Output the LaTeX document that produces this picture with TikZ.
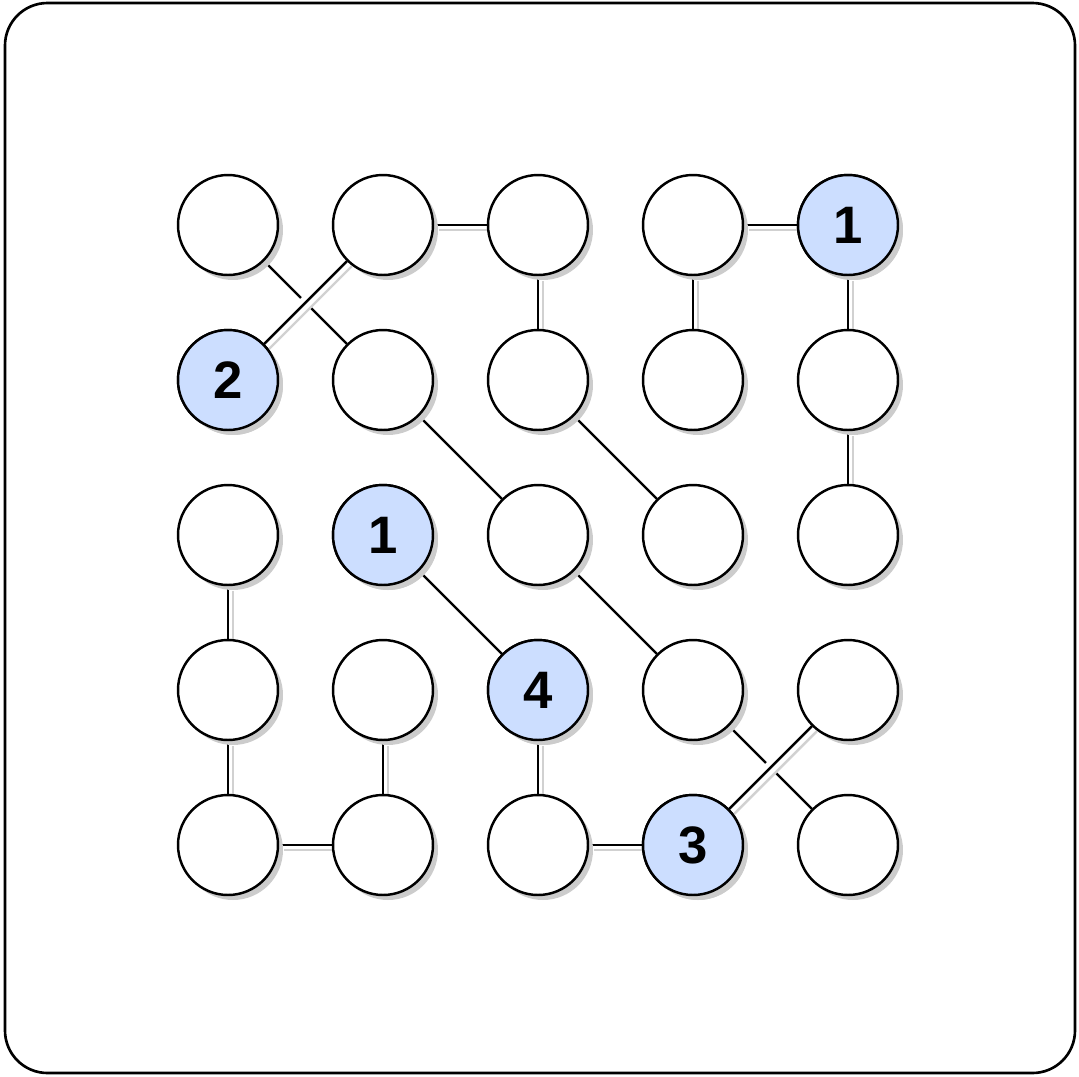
\documentclass[tikz,border=0pt]{standalone}
\usepackage{fontspec}
\setmainfont{Liberation Sans}
\usetikzlibrary{shadows,backgrounds}
\definecolor{cluefill}{HTML}{CCDEFF}

\begin{document}
\begin{tikzpicture}[x=0.02cm,y=-0.02cm,
  dot/.style={circle,draw,line width=1.4pt,fill=white,minimum size=2cm,inner sep=0pt,
    drop shadow={shadow xshift=0.1cm,shadow yshift=-0.1cm,fill=black!20,opacity=1},
    font=\fontsize{30}{30}\selectfont\bfseries},
  clue/.style={dot,fill=cluefill},
  link/.style={line width=1.4pt},
  linkshade/.style={line width=1.4pt,black!18,transform canvas={shift={(0.1cm,-0.1cm)}}},
  gap/.style={line width=0.25cm,white}]
\useasboundingbox (0,0) rectangle (1079,1076);
\draw[line width=1.5pt,rounded corners=0.85cm] (5,3) rectangle (1075,1073);
% grid of dots
\foreach \r in {0,...,4}
  \foreach \c in {0,...,4}
    \node[dot] (n-\r-\c) at (228+155*\c,225+155*\r) {};
% numbered dots
\foreach \r/\c/\t in {0/4/1, 1/0/2, 2/1/1, 3/2/4, 4/3/3}
  \node[clue] (c-\r-\c) at (n-\r-\c) {\t};
\begin{scope}[on background layer]
% plain links
\foreach \a/\b in {n-0-1/n-0-2, n-0-3/n-0-4, n-0-2/n-1-2, n-0-3/n-1-3, n-0-4/n-1-4,
    n-1-4/n-2-4, n-2-0/n-3-0, n-3-0/n-4-0, n-3-1/n-4-1, n-3-2/n-4-2, n-4-0/n-4-1,
    n-4-2/n-4-3, n-0-0/n-1-1, n-1-1/n-2-2, n-1-2/n-2-3, n-2-1/n-3-2, n-2-2/n-3-3,
    n-3-3/n-4-4} {
  \draw[linkshade] (\a) -- (\b);
  \draw[link] (\a) -- (\b);
}
% links that cross over
\foreach \a/\b in {n-0-1/n-1-0, n-3-4/n-4-3} {
  \draw[gap] (\a) -- (\b);
  \draw[linkshade] (\a) -- (\b);
  \draw[link] (\a) -- (\b);
}
\end{scope}
\end{tikzpicture}
\end{document}
